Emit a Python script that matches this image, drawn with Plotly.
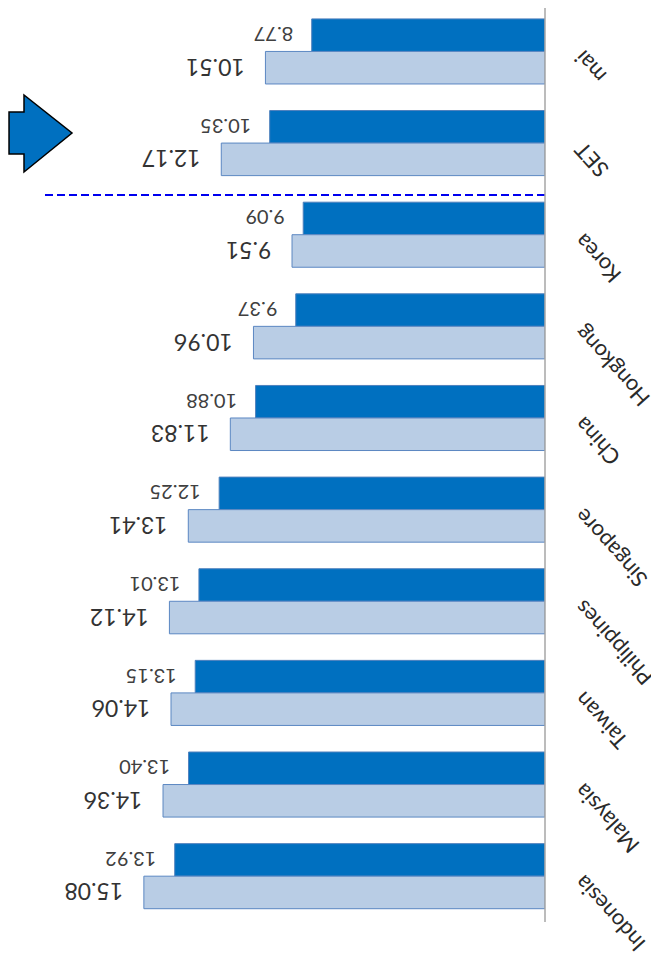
import plotly.graph_objects as go

categories = ["mai", "SET", "Korea", "Hongkong", "China", "Singapore",
              "Philippines", "Taiwan", "Malaysia", "Indonesia"]
dark_values = [8.77, 10.35, 9.09, 9.37, 10.88, 12.25, 13.01, 13.15, 13.40, 13.92]
light_values = [10.51, 12.17, 9.51, 10.96, 11.83, 13.41, 14.12, 14.06, 14.36, 15.08]

FONT = "Lato, Carlito, sans-serif"
PAD = "\u00a0\u00a0\u00a0"

# page body has an 8px margin; figure is laid out relative to that
OFF = 8
W, H = 659 - OFF, 967 - OFF
L, T = 0, 0
PLOT_RIGHT_REF, PLOT_BOTTOM_REF = 545, 967
AXIS_BOTTOM_REF = 922
R = W - (PLOT_RIGHT_REF - OFF)
B = H - (PLOT_BOTTOM_REF - OFF)
PW, PH = W - L - R, H - T - B
PITCH = 91.64
Y_BOTTOM = 9.5 + (PLOT_BOTTOM_REF - AXIS_BOTTOM_REF) / PITCH

fig = go.Figure()
fig.add_trace(go.Bar(
    y=categories, x=dark_values, orientation="h",
    marker=dict(color="#0070C0", line=dict(color="#4F81BD", width=1)),
    text=[PAD + f"{v:.2f}" for v in dark_values], textposition="outside",
    textangle=180, textfont=dict(family=FONT, size=20, color="#404040"),
    cliponaxis=False, showlegend=False,
))
fig.add_trace(go.Bar(
    y=categories, x=light_values, orientation="h",
    marker=dict(color="#B9CDE5", line=dict(color="#5B87C2", width=1)),
    text=[PAD + f"{v:.2f}" for v in light_values], textposition="outside",
    textangle=180, textfont=dict(family=FONT, size=23, color="#333333"),
    cliponaxis=False, showlegend=False,
))

def px(x, y):
    return (x - OFF - L) / PW, (PLOT_BOTTOM_REF - y) / PH

arrow_pts = [(9, 112), (24, 112), (24, 95), (72, 133), (24, 172), (24, 154), (9, 154)]
path = "M " + " L ".join(f"{px(x, y)[0]:.4f},{px(x, y)[1]:.4f}" for x, y in arrow_pts) + " Z"

fig.add_shape(type="path", path=path, xref="paper", yref="paper",
              fillcolor="#0070C0", line=dict(color="black", width=1.5), layer="above")
fig.add_shape(type="line", xref="paper", yref="paper",
              x0=px(45, 195)[0], x1=1, y0=px(45, 195)[1], y1=px(45, 195)[1],
              line=dict(color="#0000EE", width=2, dash="8px,4px"))
# category axis line
fig.add_shape(type="line", xref="paper", yref="paper",
              x0=1, x1=1, y0=px(0, AXIS_BOTTOM_REF)[1], y1=1,
              line=dict(color="#A6A6A6", width=1.5), layer="above")

fig.update_layout(
    width=W, height=H,
    margin=dict(l=L, r=R, t=T, b=B),
    paper_bgcolor="white", plot_bgcolor="white",
    barmode="group", bargap=0.29, bargroupgap=0,
    xaxis=dict(range=[PW / 26.6, 0], visible=False, showgrid=False, zeroline=False),
    yaxis=dict(side="right", range=[Y_BOTTOM, -0.474], showline=False,
               ticks="", showgrid=False, zeroline=False, tickangle=-132,
               ticklabelposition="inside", ticklabelstandoff=-46, ticklabelshift=-8,
               tickfont=dict(family=FONT, size=22, color="#2a2a2a")),
)

fig.write_html("out.html")
